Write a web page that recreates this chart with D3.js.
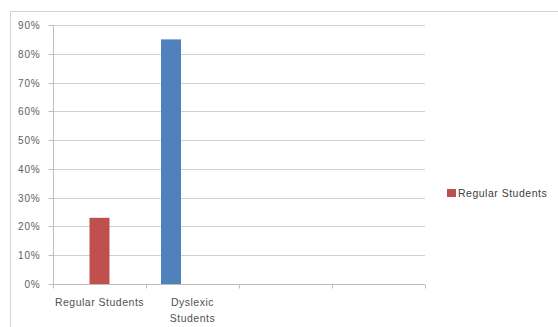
<!DOCTYPE html>
<html><head><meta charset="utf-8">
<script src="https://cdn.jsdelivr.net/npm/d3@7"></script>
<style>body{margin:0;background:#fff}svg{display:block}</style>
</head><body>
<svg id="c" width="558" height="327"></svg>
<script>
const categories = ["Regular Students", "Dyslexic Students", "", ""];
const barCategories = ["Regular Students", "Dyslexic Students"];
const barValues = [0.23, 0.85];
const barSlots = [1, 0];
const barColors = ["#C0504D", "#4F81BD"];
const legendLabels = ["Regular Students"];
const legendColors = ["#C0504D"];
const yTicks = [0, 0.1, 0.2, 0.3, 0.4, 0.5, 0.6, 0.7, 0.8, 0.9];

(function () {
const svg = d3.select("#c");
const font = "'Liberation Sans', Arial, sans-serif";
svg.append("rect").attr("x", 10.5).attr("y", 11.5).attr("width", 600).attr("height", 400)
  .attr("fill", "none").attr("stroke", "#d4d4d4").attr("stroke-width", 1);

const pL = 53, pR = 425, pT = 25, pB = 284;
const x = d3.scaleBand().domain(categories.map((c, i) => i)).range([pL, pR]);
const y = d3.scaleLinear().domain([0, 0.9]).range([pB, pT]);

// gridlines
svg.append("g").selectAll("line").data(yTicks.slice(1)).join("line")
  .attr("x1", pL).attr("x2", pR)
  .attr("y1", d => Math.round(y(d)) + 0.5).attr("y2", d => Math.round(y(d)) + 0.5)
  .attr("stroke", "#d0d0d0").attr("stroke-width", 1.2);

// y axis
const ya = svg.append("g").attr("transform", `translate(${pL + 0.5},0)`)
  .call(d3.axisLeft(y).tickValues(yTicks).tickFormat(d3.format(".0%")).tickSize(5).tickPadding(8));
ya.select(".domain").attr("stroke", "#bdbdbd").attr("d", `M0,${pT}V${pB}`);
ya.selectAll(".tick line").attr("stroke", "#bdbdbd");
ya.selectAll(".tick text").attr("fill", "#606060").attr("font-size", 10).attr("font-family", font)
  .attr("letter-spacing", 0.8);
ya.selectAll(".tick").attr("transform", d => `translate(0,${Math.round(y(d)) + 0.5})`);

// x axis
const xa = svg.append("g").attr("transform", `translate(0,${pB + 0.5})`);
xa.append("line").attr("x1", pL).attr("x2", pR).attr("stroke", "#bdbdbd");
const edges = categories.map((c, i) => x(i)).concat([pR]);
xa.selectAll("line.t").data(edges).join("line").attr("class", "t")
  .attr("x1", d => Math.round(d) + 0.5).attr("x2", d => Math.round(d) + 0.5)
  .attr("y1", 0).attr("y2", 4).attr("stroke", "#bdbdbd");
const wrap = {"Regular Students": ["Regular Students"], "Dyslexic Students": ["Dyslexic", "Students"]};
categories.forEach((c, i) => {
  if (!c) return;
  const t = xa.append("text").attr("x", x(i) + x.bandwidth() / 2).attr("y", 21.5)
    .attr("text-anchor", "middle").attr("fill", "#505050").attr("font-size", 10.5).attr("font-family", font)
    .attr("letter-spacing", 0.5);
  wrap[c].forEach((ln, k) => t.append("tspan").attr("x", x(i) + x.bandwidth() / 2).attr("dy", k ? 16 : 0).text(ln));
});

// bars
const slotW = 21.5, barW = 20;
svg.append("g").selectAll("rect").data(barValues).join("rect")
  .attr("x", (d, i) => x(categories.indexOf(barCategories[i])) + x.bandwidth() / 2 + (barSlots[i] - 1) * slotW - barW / 2)
  .attr("width", barW)
  .attr("y", d => y(d)).attr("height", d => pB - y(d))
  .attr("fill", (d, i) => barColors[i]);

// legend
const lg = svg.append("g").attr("transform", "translate(447,189)");
legendLabels.forEach((l, i) => {
  lg.append("rect").attr("x", 0).attr("y", i * 14).attr("width", 9).attr("height", 8).attr("fill", legendColors[i]);
  lg.append("text").attr("x", 11).attr("y", i * 14 + 8).attr("fill", "#404040")
    .attr("font-size", 10.5).attr("font-family", font).attr("letter-spacing", 0.5).text(l);
});
})();
</script>
</body></html>
